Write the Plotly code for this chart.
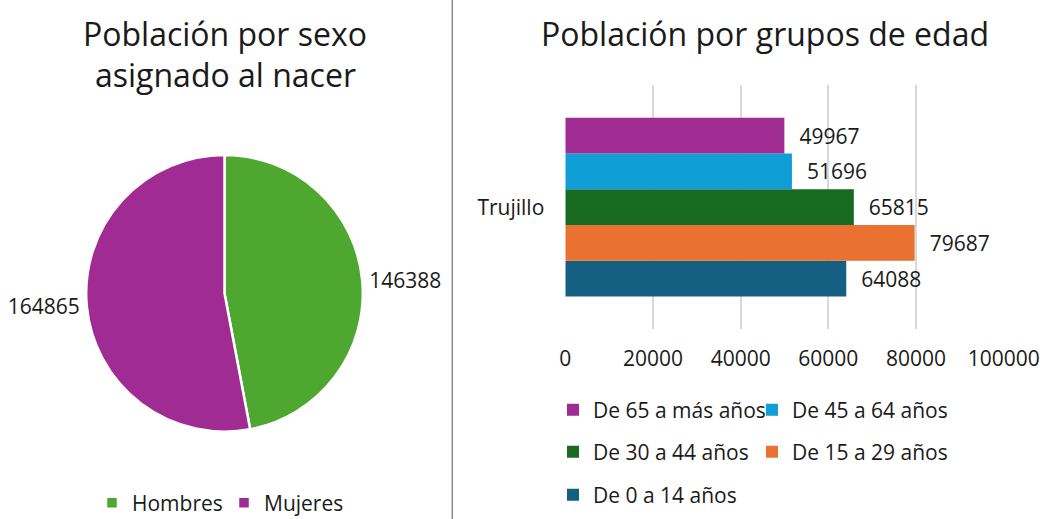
import plotly.graph_objects as go

# ---- Data ----
sexo_labels = ["Hombres", "Mujeres"]
sexo_values = [146388, 164865]
sexo_colors = ["#4EA72E", "#A02B93"]

categoria = ["Trujillo"]
grupos = ["De 0 a 14 años", "De 15 a 29 años", "De 30 a 44 años", "De 45 a 64 años", "De 65 a más años"]
grupos_values = [64088, 79687, 65815, 51696, 49967]
grupos_colors = ["#156082", "#E97132", "#196B24", "#0F9ED5", "#A02B93"]
grupos_legend = ["legend4", "legend3", "legend3", "legend2", "legend2"]

x_ticks = [0, 20000, 40000, 60000, 80000, 100000]

W, H = 1040, 519
FONT = "Open Sans"
TXT = "#1a1a1a"

def px(x):
    return x / W

def py(y):
    return 1 - y / H

fig = go.Figure()

# ---- Pie ----
cx, cy, r = 224.5, 293.3, 138.3
fig.add_trace(go.Pie(
    labels=sexo_labels, values=sexo_values,
    marker=dict(colors=sexo_colors, line=dict(color="white", width=2.5)),
    sort=False, direction="clockwise", rotation=0,
    texttemplate="%{value:.0f}", textposition="outside",
    textfont=dict(family=FONT, size=21, color=TXT),
    domain=dict(x=[px(cx - r), px(cx + r)], y=[py(cy + r), py(cy - r)]),
    legend="legend", showlegend=True, hoverinfo="label+value",
))

# ---- Bars ----
for name, val, col, lg in zip(grupos, grupos_values, grupos_colors, grupos_legend):
    fig.add_trace(go.Bar(
        y=categoria, x=[val], name=name, orientation="h",
        marker=dict(color=col, line=dict(width=0)),
        text=["\u2007" + str(val)], textposition="outside",
        textfont=dict(family=FONT, size=21, color=TXT),
        cliponaxis=False, legend=lg,
        xaxis="x", yaxis="y",
    ))

LEGFONT = dict(family=FONT, size=21, color=TXT)

fig.update_layout(
    width=W, height=H,
    margin=dict(l=0, r=0, t=0, b=0, autoexpand=False),
    paper_bgcolor="white", plot_bgcolor="white",
    font=dict(family=FONT, size=21, color=TXT),
    barmode="group", bargap=0.269, bargroupgap=0,
    xaxis=dict(
        domain=[px(565.3), px(1003.7)], range=[0, 100000],
        tickvals=x_ticks, ticktext=[str(v) for v in x_ticks],
        showgrid=True, gridcolor="#d9d9d9", gridwidth=2,
        zeroline=False, showline=False, ticks="",
        tickfont=dict(family=FONT, size=21, color=TXT),
        ticklabelstandoff=15, fixedrange=True, automargin=False,
    ),
    yaxis=dict(
        domain=[py(329.3), py(85)], range=[-0.5, 0.5],
        showgrid=False, zeroline=False, showline=False, ticks="",
        tickfont=dict(family=FONT, size=21, color=TXT),
        ticklabelstandoff=20, fixedrange=True, automargin=False,
    ),
    legend=dict(orientation="h", x=px(92), xanchor="left", y=py(503), yanchor="middle",
                entrywidth=87, entrywidthmode="pixels", font=LEGFONT,
                bgcolor="rgba(0,0,0,0)"),
    legend2=dict(orientation="h", x=px(553), xanchor="left", y=py(410), yanchor="middle",
                 entrywidth=154, entrywidthmode="pixels", traceorder="reversed",
                 font=LEGFONT, bgcolor="rgba(0,0,0,0)"),
    legend3=dict(orientation="h", x=px(553), xanchor="left", y=py(452), yanchor="middle",
                 entrywidth=154, entrywidthmode="pixels", traceorder="reversed",
                 font=LEGFONT, bgcolor="rgba(0,0,0,0)"),
    legend4=dict(orientation="h", x=px(553), xanchor="left", y=py(495), yanchor="middle",
                 entrywidth=154, entrywidthmode="pixels",
                 font=LEGFONT, bgcolor="rgba(0,0,0,0)"),
    shapes=[dict(type="line", xref="paper", yref="paper", x0=px(452.3), x1=px(452.3), y0=0, y1=1,
                 line=dict(color="#8c8c8c", width=1.5))],
    annotations=[
        dict(text="Población por sexo", x=px(225), y=py(33), xref="paper", yref="paper",
             xanchor="center", yanchor="middle", showarrow=False,
             font=dict(family=FONT, size=32, color=TXT)),
        dict(text="asignado al nacer", x=px(225), y=py(75), xref="paper", yref="paper",
             xanchor="center", yanchor="middle", showarrow=False,
             font=dict(family=FONT, size=32, color=TXT)),
        dict(text="Población por grupos de edad", x=px(765), y=py(33), xref="paper", yref="paper",
             xanchor="center", yanchor="middle", showarrow=False,
             font=dict(family=FONT, size=32, color=TXT)),
    ],
)

fig.write_html(
    "out.html",
    config={"displayModeBar": False},
    post_script="document.body.style.margin='0';document.body.style.overflow='hidden';",
)
